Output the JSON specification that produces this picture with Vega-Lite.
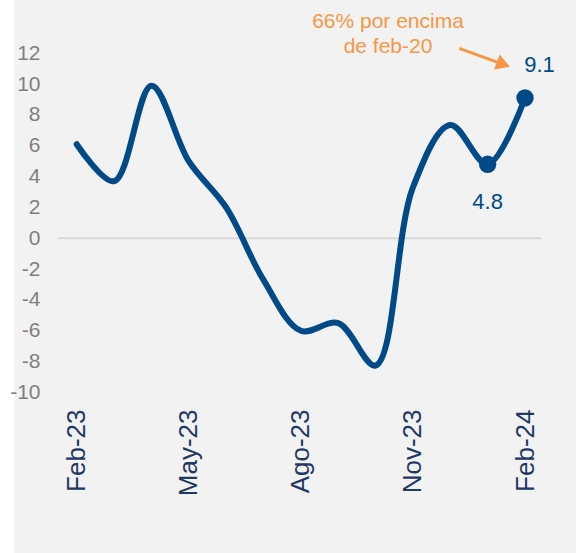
{
  "$schema": "https://vega.github.io/schema/vega-lite/v6.json",
  "width": 562,
  "height": 553,
  "autosize": {"type": "none"},
  "padding": {"left": 14, "top": 0, "right": 0, "bottom": 0},
  "background": "#ffffff",
  "config": {
    "view": {"fill": "#f2f2f2", "stroke": null},
    "font": "Liberation Sans"
  },
  "datasets": {
    "serie": [
      {"mes": "Feb-23", "n": 0, "valor": 6.1},
      {"mes": "Mar-23", "n": 1, "valor": 3.7},
      {"mes": "Abr-23", "n": 2, "valor": 9.9},
      {"mes": "May-23", "n": 3, "valor": 5.0},
      {"mes": "Jun-23", "n": 4, "valor": 2.0},
      {"mes": "Jul-23", "n": 5, "valor": -2.7},
      {"mes": "Ago-23", "n": 6, "valor": -6.0},
      {"mes": "Sep-23", "n": 7, "valor": -5.5},
      {"mes": "Oct-23", "n": 8, "valor": -8.25},
      {"mes": "Nov-23", "n": 9, "valor": 3.3},
      {"mes": "Dic-23", "n": 10, "valor": 7.35},
      {"mes": "Ene-24", "n": 11, "valor": 4.8},
      {"mes": "Feb-24", "n": 12, "valor": 9.1}
    ],
    "cero": [{"valor": 0, "desde": -0.5, "hasta": 12.45}],
    "anotacion": [
      {"texto": "66% por encima", "n": 8.333, "valor": 14.03},
      {"texto": "de feb-20", "n": 8.333, "valor": 12.43}
    ],
    "flecha": [{"n": 10.241, "valor": 12.32, "n2": 11.421, "valor2": 11.28}]
  },
  "layer": [
    {
      "data": {"name": "cero"},
      "mark": {"type": "rule", "color": "#d9d9d9", "strokeWidth": 2},
      "encoding": {
        "x": {"field": "desde", "type": "quantitative", "scale": {"domain": [-1.678, 13.365], "nice": false, "zero": false}, "axis": {"values": [0, 3, 6, 9, 12], "labelExpr": "['Feb-23','May-23','Ago-23','Nov-23','Feb-24'][round(datum.value/3)]", "labelAngle": -90, "labelAlign": "right", "labelBaseline": "middle", "labelFontSize": 26, "labelColor": "#1f3864", "labelPadding": 0, "ticks": false, "tickSize": 0, "domain": false, "grid": false, "offset": -144, "title": null, "labelOverlap": false}},
        "x2": {"field": "hasta"},
        "y": {"field": "valor", "type": "quantitative", "scale": {"domain": [-20.409, 15.454], "nice": false, "zero": false}, "axis": {"values": [-10, -8, -6, -4, -2, 0, 2, 4, 6, 8, 10, 12], "labelExpr": "datum.value < 0 ? '-' + abs(datum.value) : '' + datum.value", "labelFontSize": 21, "labelColor": "#808080", "labelPadding": 0, "ticks": false, "tickSize": 0, "domain": false, "grid": false, "offset": -26, "title": null, "labelOverlap": false}}
      }
    },
    {
      "data": {"name": "serie"},
      "mark": {"type": "line", "interpolate": "catmull-rom", "color": "#004a87", "strokeWidth": 6, "strokeCap": "round", "strokeJoin": "round"},
      "encoding": {
        "x": {"field": "n", "type": "quantitative"},
        "y": {"field": "valor", "type": "quantitative"}
      }
    },
    {
      "data": {"name": "serie"},
      "transform": [{"filter": "datum.n >= 11"}],
      "mark": {"type": "point", "filled": true, "opacity": 1, "color": "#004a87", "size": 300},
      "encoding": {
        "x": {"field": "n", "type": "quantitative"},
        "y": {"field": "valor", "type": "quantitative"}
      }
    },
    {
      "data": {"name": "serie"},
      "transform": [{"filter": "datum.n == 11"}],
      "mark": {"type": "text", "fontSize": 22, "color": "#004a87", "dy": 38, "align": "center", "baseline": "middle"},
      "encoding": {
        "x": {"field": "n", "type": "quantitative"},
        "y": {"field": "valor", "type": "quantitative"},
        "text": {"field": "valor", "type": "quantitative", "format": ".1f"}
      }
    },
    {
      "data": {"name": "serie"},
      "transform": [{"filter": "datum.n == 12"}],
      "mark": {"type": "text", "fontSize": 22, "color": "#004a87", "dx": 14.5, "dy": -33, "align": "center", "baseline": "middle"},
      "encoding": {
        "x": {"field": "n", "type": "quantitative"},
        "y": {"field": "valor", "type": "quantitative"},
        "text": {"field": "valor", "type": "quantitative", "format": ".1f"}
      }
    },
    {
      "data": {"name": "anotacion"},
      "mark": {"type": "text", "fontSize": 21, "color": "#f79646", "align": "center", "baseline": "middle"},
      "encoding": {
        "x": {"field": "n", "type": "quantitative"},
        "y": {"field": "valor", "type": "quantitative"},
        "text": {"field": "texto", "type": "nominal"}
      }
    },
    {
      "data": {"name": "flecha"},
      "mark": {"type": "rule", "color": "#f79646", "strokeWidth": 3},
      "encoding": {
        "x": {"field": "n", "type": "quantitative"},
        "y": {"field": "valor", "type": "quantitative"},
        "x2": {"field": "n2"},
        "y2": {"field": "valor2"}
      }
    },
    {
      "data": {"name": "flecha"},
      "mark": {"type": "point", "shape": "triangle-right", "filled": true, "opacity": 1, "color": "#f79646", "size": 260, "angle": 20},
      "encoding": {
        "x": {"field": "n2", "type": "quantitative"},
        "y": {"field": "valor2", "type": "quantitative"}
      }
    }
  ]
}
